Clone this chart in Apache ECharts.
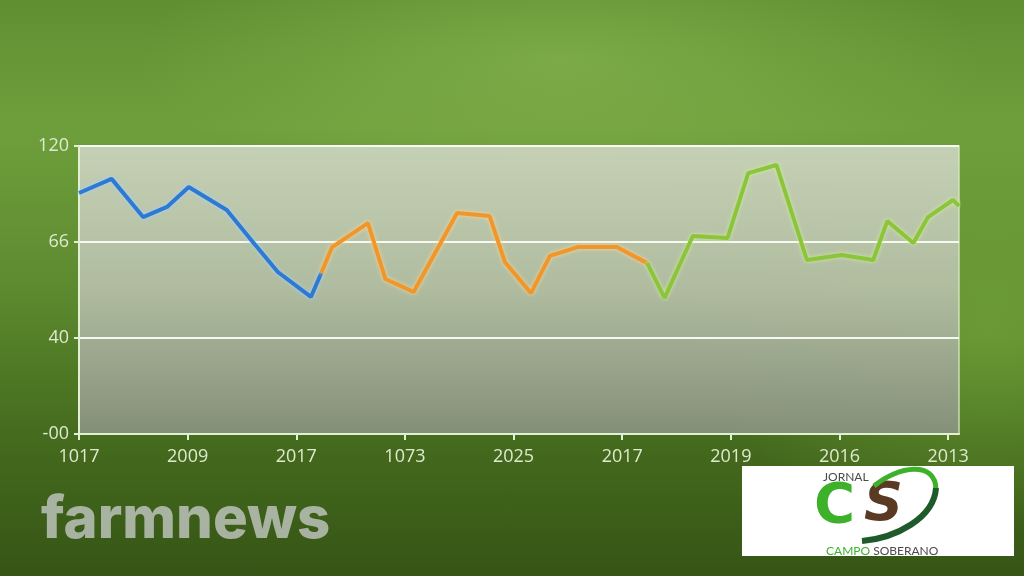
<!DOCTYPE html>
<html>
<head>
<meta charset="utf-8">
<script src="https://cdn.jsdelivr.net/npm/echarts@6/dist/echarts.min.js"></script>
<style>
html,body{margin:0;padding:0;width:1024px;height:576px;overflow:hidden;}
body{
  background:
    radial-gradient(ellipse 420px 140px at 560px 60px, rgba(140,185,85,0.55), rgba(140,185,85,0) 100%),
    radial-gradient(ellipse 300px 200px at 990px 330px, rgba(120,170,60,0.6), rgba(120,170,60,0) 100%),
    linear-gradient(180deg, #5f8f31 0%, #6f9f3c 22%, #5d8a2f 50%, #456c1e 75%, #365516 100%);
}
#chart{width:1024px;height:576px;}
</style>
</head>
<body>
<div id="chart"></div>
<script>
// X tick labels (category names as printed), placed at every 10 units
const xTickLabels = ['1017','2009','2017','1073','2025','2017','2019','2016','2013'];
// Y tick labels as printed, at 0, 40, 80, 120
const yTickLabels = ['-00','40','66','120'];

// Series: [x position, value]
const blueSeries = [[0,100.4],[3.0,106.3],[5.9,90.4],[8.1,94.6],[10.1,102.9],[13.6,93.3],[16.0,80.0],[18.3,67.5],[21.35,57.1],[22.3,67.1]];
const orangeSeries = [[22.3,67.1],[23.3,77.9],[26.6,87.9],[28.2,64.6],[30.8,59.2],[34.8,92.1],[37.8,90.8],[39.2,71.7],[41.6,58.7],[43.35,74.2],[45.9,77.9],[49.5,77.9],[52.3,71.2]];
const greenSeries = [[52.3,71.2],[53.9,56.7],[56.5,82.5],[59.7,81.7],[61.6,108.7],[64.2,112.1],[67.0,72.5],[70.2,74.6],[73.1,72.5],[74.4,88.7],[76.8,79.6],[78.15,90.4],[80.45,97.5],[81,95.0]];

const chart = echarts.init(document.getElementById('chart'), null, {renderer:'canvas'});
const labelColor = '#dfe9cf';
const lineSeries = (data, color, halo) => ({
  type:'line', data, symbol:'none', smooth:false, clip:true,
  lineStyle:{color, width:4, shadowColor:halo, shadowBlur:4},
  z:3
});
chart.setOption({
  backgroundColor:'transparent',
  animation:false,
  grid:{left:79,right:65,top:146,bottom:142,show:true,borderColor:'rgba(215,235,190,0.85)',borderWidth:1.5,
    backgroundColor:{type:'linear',x:0,y:0,x2:0,y2:1,colorStops:[
      {offset:0,color:'rgba(200,210,185,0.97)'},
      {offset:0.5,color:'rgba(180,190,165,0.95)'},
      {offset:1,color:'rgba(135,145,125,0.95)'}]}},
  xAxis:{type:'value',min:0,max:81,interval:10,
    axisLine:{show:true,lineStyle:{color:'#e3efd3',width:2}},
    axisTick:{show:true,length:6,lineStyle:{color:'#e3efd3',width:2},customValues:[0,10,20,30,40,50,60,70,80]},
    splitLine:{show:false},
    axisLabel:{color:labelColor,fontSize:18,fontFamily:'Open Sans',margin:14,
      customValues:[0,10,20,30,40,50,60,70,80],
      formatter:v=>xTickLabels[Math.round(v/10)]||''}},
  yAxis:{type:'value',min:0,max:120,interval:40,
    axisLine:{show:true,lineStyle:{color:'#e3efd3',width:2}},
    axisTick:{show:true,length:5,lineStyle:{color:'#e3efd3',width:2}},
    splitLine:{show:true,lineStyle:{color:'rgba(250,252,245,0.95)',width:2}},
    axisLabel:{color:labelColor,fontSize:18,fontFamily:'Open Sans',margin:10,
      formatter:v=>yTickLabels[Math.round(v/40)]||''}},
  series:[
    lineSeries(blueSeries,'#2d7ad4','rgba(170,210,255,0.9)'),
    lineSeries(orangeSeries,'#f1962a','rgba(255,215,150,0.9)'),
    lineSeries(greenSeries,'#8cc43a','rgba(210,240,160,0.9)')
  ],
  graphic:[
    {type:'text',z:10,style:{x:41,y:492,text:'farmnews',fill:'rgba(195,200,195,0.8)',font:'800 58px "Inter", "Lato", sans-serif'}},
    {type:'rect',shape:{x:742,y:466,width:272,height:90},style:{fill:'#ffffff'},z:10},
    {type:'text',z:11,style:{x:823,y:471,text:'JORNAL',fill:'#4a4a4a',font:'12px "Lato", sans-serif'}},
    {type:'text',z:11,style:{x:814,y:479,text:'C',fill:'#3db12a',font:'900 56px "DejaVu Sans", sans-serif'}},
    {type:'text',z:11,style:{x:864,y:479,text:'S',fill:'#5b3a24',font:'italic 900 54px "DejaVu Sans", sans-serif'}},
    {type:'bezierCurve',z:12,shape:{x1:874,y1:486,cpx1:898,cpy1:466,cpx2:936,cpy2:460,x2:936,y2:490},style:{stroke:'#3db12a',lineWidth:5,fill:null}},
    {type:'bezierCurve',z:12,shape:{x1:936,y1:488,cpx1:934,cpy1:518,cpx2:896,cpy2:538,x2:862,y2:541},style:{stroke:'#1f5a2a',lineWidth:6,fill:null}},
    {type:'text',z:11,style:{x:826,y:545,text:'{g|CAMPO} {d|SOBERANO}',font:'12px "Lato", sans-serif',
      rich:{g:{fill:'#3db12a',fontSize:12,fontFamily:'Lato'},d:{fill:'#4a4a4a',fontSize:12,fontFamily:'Lato'}}}}
  ]
});
</script>
</body>
</html>
